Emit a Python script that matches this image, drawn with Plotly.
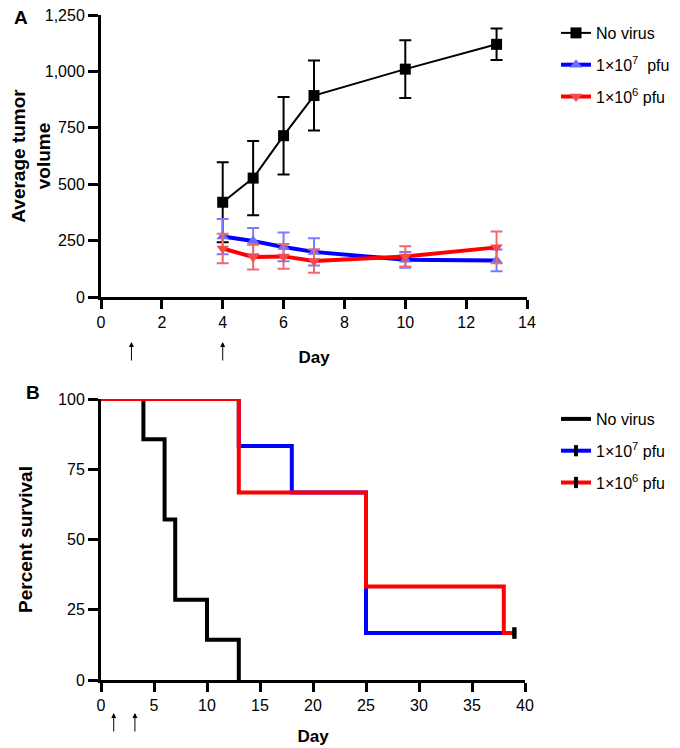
import plotly.graph_objects as go

# ----------------------------------------------------------------------
# Data
# ----------------------------------------------------------------------
# Panel A: average tumour volume
days_a = [4, 5, 6, 7, 10, 13]
no_virus_vol = [420, 527, 715, 893, 1010, 1120]
no_virus_err = [177, 165, 172, 155, 128, 70]
high_dose_vol = [268, 248, 222, 200, 165, 162]
high_dose_err = [78, 58, 64, 60, 35, 48]
low_dose_vol = [215, 177, 180, 160, 180, 220]
low_dose_err = [65, 55, 55, 52, 45, 70]
dose_days_a = [1, 4]

# Panel B: Kaplan-Meier survival (step points)
no_virus_t = [0, 4, 6, 7, 10, 13]
no_virus_s = [100, 85.7, 57.1, 28.6, 14.3, 0]
high_dose_t = [0, 13, 18, 25, 39]
high_dose_s = [100, 83.3, 66.7, 16.7, 16.7]
low_dose_t = [0, 13, 25, 38, 39]
low_dose_s = [100, 66.7, 33.3, 16.7, 16.7]
censor_t = [39]
censor_s = [16.7]
dose_days_b = [1.2, 3.2]

labels = ["No virus", "1\u00d710<sup>7</sup>  pfu", "1\u00d710<sup>6</sup> pfu"]
labels_b = ["No virus", "1\u00d710<sup>7</sup> pfu", "1\u00d710<sup>6</sup> pfu"]

FONT = "Arial, Liberation Sans, sans-serif"
BLUE = "#0000ff"
RED = "#ff0000"

# the page body adds an 8px margin, so the figure is a bit smaller
W, H, OFF = 672, 740, 8


def px(x):
    """screen x pixel -> paper fraction"""
    return (x - OFF) / W


def py(y):
    """screen y pixel -> paper fraction"""
    return 1 - (y - OFF) / H


fig = go.Figure()

# ---------------------------- Panel A --------------------------------
fig.add_trace(go.Scatter(
    x=days_a, y=no_virus_vol, name=labels[0], legendgroup="a0",
    mode="lines+markers",
    line=dict(color="black", width=2),
    marker=dict(symbol="square", size=11, color="black"),
    error_y=dict(type="data", array=no_virus_err, color="black",
                 thickness=2, width=6),
    xaxis="x", yaxis="y", legend="legend"
))
fig.add_trace(go.Scatter(
    x=days_a, y=high_dose_vol, name=labels[1], legendgroup="a1",
    mode="lines+markers",
    line=dict(color=BLUE, width=4),
    marker=dict(symbol="triangle-up", size=11, color="#6b6bff"),
    error_y=dict(type="data", array=high_dose_err, color="#7b7bff",
                 thickness=2, width=6),
    xaxis="x", yaxis="y", legend="legend"
))
fig.add_trace(go.Scatter(
    x=days_a, y=low_dose_vol, name=labels[2], legendgroup="a2",
    mode="lines+markers",
    line=dict(color=RED, width=4),
    marker=dict(symbol="triangle-down", size=11, color="#f24d4d"),
    error_y=dict(type="data", array=low_dose_err, color="#f06a6a",
                 thickness=2, width=6),
    xaxis="x", yaxis="y", legend="legend"
))

# ---------------------------- Panel B --------------------------------
fig.add_trace(go.Scatter(
    x=no_virus_t, y=no_virus_s, name=labels_b[0], legendgroup="b0",
    mode="lines", line=dict(color="black", width=4, shape="hv"),
    xaxis="x2", yaxis="y2", legend="legend2"
))
fig.add_trace(go.Scatter(
    x=high_dose_t, y=high_dose_s, showlegend=False,
    mode="lines", line=dict(color=BLUE, width=4, shape="hv"),
    xaxis="x2", yaxis="y2"
))
fig.add_trace(go.Scatter(
    x=low_dose_t, y=low_dose_s, showlegend=False,
    mode="lines", line=dict(color=RED, width=4, shape="hv"),
    xaxis="x2", yaxis="y2"
))
# censored marks (also used as legend entries)
for name, col, grp in [(labels_b[1], BLUE, "b1"), (labels_b[2], RED, "b2")]:
    fig.add_trace(go.Scatter(
        x=censor_t, y=censor_s, name=name, legendgroup=grp,
        mode="lines+markers",
        line=dict(color=col, width=4),
        marker=dict(symbol="line-ns", size=8,
                    line=dict(color="black", width=4)),
        xaxis="x2", yaxis="y2", legend="legend2"
    ))

axis_style = dict(
    showline=True, linecolor="black", linewidth=3,
    ticks="outside", ticklen=9, tickwidth=3, tickcolor="black",
    showgrid=False, zeroline=False, automargin=False,
    ticklabeloverflow="allow",
    tickfont=dict(family=FONT, size=16, color="black"),
)

fig.update_layout(
    width=W, height=H,
    margin=dict(l=0, r=0, t=0, b=0),
    plot_bgcolor="white", paper_bgcolor="white",
    font=dict(family=FONT, color="black"),
    xaxis=dict(axis_style, domain=[px(101), px(527)], range=[0, 14],
               tick0=0, dtick=2, anchor="y",
               title=dict(text="<b>Day</b>", standoff=21,
                          font=dict(size=17))),
    yaxis=dict(axis_style, domain=[py(297), py(15)], range=[0, 1250],
               tick0=0, dtick=250, tickformat=",", anchor="x", ticklen=10,
               title=dict(text="<b>Average tumor<br>volume</b>", standoff=2,
                          font=dict(size=19))),
    xaxis2=dict(axis_style, domain=[px(101), px(525)], range=[0, 40],
                tick0=0, dtick=5, anchor="y2",
                title=dict(text="<b>Day</b>", standoff=17,
                           font=dict(size=17))),
    yaxis2=dict(axis_style, domain=[py(680), py(399)], range=[0, 100],
                tick0=0, dtick=25, anchor="x2", ticklen=10,
                title=dict(text="<b>Percent survival</b>", standoff=21,
                           font=dict(size=19))),
    legend=dict(x=px(556), y=py(16), xanchor="left", yanchor="top",
                font=dict(size=16), tracegroupgap=8,
                bgcolor="rgba(0,0,0,0)"),
    legend2=dict(x=px(556), y=py(402), xanchor="left", yanchor="top",
                 font=dict(size=16), tracegroupgap=8,
                 bgcolor="rgba(0,0,0,0)"),
)

# dosing arrows under the x axes
annotations = []
for d in dose_days_a:
    annotations.append(dict(x=d, y=py(342), xref="x", yref="paper",
                            text="", showarrow=True, ax=0, ay=20,
                            arrowhead=2, arrowsize=1, arrowwidth=1,
                            arrowcolor="black"))
for d in dose_days_b:
    annotations.append(dict(x=d, y=py(713), xref="x2", yref="paper",
                            text="", showarrow=True, ax=0, ay=20,
                            arrowhead=2, arrowsize=1, arrowwidth=1,
                            arrowcolor="black"))
# panel letters
annotations.append(dict(x=px(21), y=py(18), xref="paper", yref="paper",
                        xanchor="center", yanchor="middle",
                        text="<b>A</b>", showarrow=False,
                        font=dict(size=19)))
annotations.append(dict(x=px(33), y=py(392), xref="paper", yref="paper",
                        xanchor="center", yanchor="middle",
                        text="<b>B</b>", showarrow=False,
                        font=dict(size=19)))
fig.update_layout(annotations=annotations)

fig.write_html("out.html")
